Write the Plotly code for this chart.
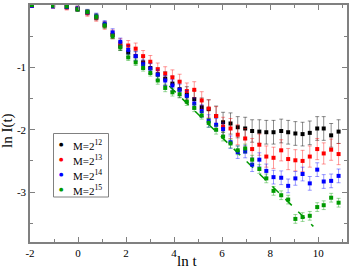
import plotly.graph_objects as go

ln_t = [-1.92, -1.04, -0.47, -0.02, 0.39, 0.76, 1.11, 1.44, 1.76, 2.09,
        2.40, 2.71, 3.01, 3.32, 3.63, 3.93, 4.23, 4.53, 4.84, 5.15,
        5.44, 5.75, 6.04, 6.35, 6.65, 6.96, 7.25, 7.55, 7.84, 8.14,
        8.46, 8.75, 9.05, 9.35, 9.65, 9.96, 10.23, 10.54, 10.85]

lnI_M12 = [0.00, -0.01, -0.03, -0.06, -0.12, -0.19, -0.32, -0.48, -0.66, -0.76,
           -0.82, -0.92, -1.01, -1.11, -1.18, -1.26, -1.35, -1.44, -1.51, -1.64,
           -1.67, -1.78, -1.88, -1.90, -1.96, -1.98, -2.02, -2.03, -2.04, -2.04,
           -2.02, -2.04, -2.06, -2.07, -2.05, -1.98, -1.98, -2.09, -2.03]
err_M12 = [0.03, 0.03, 0.03, 0.04, 0.04, 0.05, 0.05, 0.06, 0.07, 0.07,
           0.08, 0.09, 0.09, 0.10, 0.11, 0.12, 0.13, 0.13, 0.14, 0.15,
           0.15, 0.16, 0.16, 0.17, 0.17, 0.18, 0.18, 0.19, 0.19, 0.19,
           0.19, 0.19, 0.19, 0.19, 0.19, 0.19, 0.19, 0.19, 0.19]

lnI_M13 = [-0.01, -0.02, -0.04, -0.06, -0.13, -0.21, -0.33, -0.47, -0.62, -0.65,
           -0.70, -0.82, -0.91, -1.03, -1.10, -1.16, -1.23, -1.38, -1.36, -1.53,
           -1.66, -1.78, -1.95, -1.98, -2.08, -2.14, -2.31, -2.24, -2.43, -2.45,
           -2.33, -2.47, -2.49, -2.50, -2.43, -2.31, -2.38, -2.32, -2.39]
err_M13 = [0.03, 0.03, 0.04, 0.04, 0.05, 0.05, 0.06, 0.07, 0.08, 0.08,
           0.09, 0.09, 0.10, 0.10, 0.11, 0.12, 0.12, 0.13, 0.13, 0.14,
           0.14, 0.15, 0.15, 0.16, 0.16, 0.16, 0.17, 0.17, 0.17, 0.17,
           0.17, 0.17, 0.17, 0.17, 0.17, 0.17, 0.17, 0.17, 0.17]

lnI_M14 = [-0.01, -0.02, -0.03, -0.06, -0.11, -0.18, -0.30, -0.44, -0.59, -0.72,
           -0.82, -0.95, -1.02, -1.12, -1.21, -1.29, -1.36, -1.46, -1.58, -1.70,
           -1.86, -1.92, -1.99, -2.20, -2.36, -2.35, -2.56, -2.48, -2.66, -2.76,
           -2.77, -2.90, -2.78, -2.71, -2.86, -2.64, -2.83, -2.82, -2.74]
err_M14 = [0.03, 0.03, 0.03, 0.04, 0.04, 0.05, 0.05, 0.06, 0.06, 0.07,
           0.07, 0.07, 0.08, 0.08, 0.08, 0.09, 0.09, 0.09, 0.09, 0.10,
           0.10, 0.10, 0.10, 0.10, 0.10, 0.10, 0.11, 0.11, 0.11, 0.11,
           0.11, 0.11, 0.11, 0.11, 0.11, 0.11, 0.11, 0.11, 0.11]

lnI_M15 = [0.00, -0.01, -0.02, -0.07, -0.11, -0.19, -0.33, -0.50, -0.68, -0.84,
           -0.92, -1.01, -1.09, -1.21, -1.33, -1.40, -1.43, -1.55, -1.65, -1.77,
           -1.89, -2.00, -2.11, -2.22, -2.33, -2.30, -2.48, -2.63, -2.78, -2.98,
           -3.05, -3.12, -3.43, -3.40, -3.38, -3.24, -3.21, -3.09, -3.17]
err_M15 = [0.02, 0.02, 0.03, 0.03, 0.03, 0.04, 0.04, 0.04, 0.05, 0.05,
           0.05, 0.05, 0.05, 0.06, 0.06, 0.06, 0.06, 0.06, 0.06, 0.06,
           0.07, 0.07, 0.07, 0.07, 0.07, 0.07, 0.07, 0.07, 0.07, 0.07,
           0.07, 0.07, 0.07, 0.07, 0.07, 0.07, 0.07, 0.07, 0.07]

fit_x = [3.8, 9.8]
fit_y = [-1.30, -3.55]

series_names = ["M=2<sup>12</sup>", "M=2<sup>13</sup>", "M=2<sup>14</sup>", "M=2<sup>15</sup>"]
x_tickvals = [-2, 0, 2, 4, 6, 8, 10]
x_ticktext = ["-2", "0", "2", "4", "6", "8", "10"]
y_tickvals = [0, -1, -2, -3]
y_ticktext = ["0", "-1", "-2", "-3"]
x_title = "ln t"
y_title = "ln I(t)"

colors = ["#000000", "#ff0000", "#0000ff", "#009a00"]
err_colors = ["rgba(0,0,0,0.45)", "rgba(255,0,0,0.4)", "rgba(0,0,255,0.4)", "rgba(0,154,0,0.4)"]
ys = [lnI_M12, lnI_M13, lnI_M14, lnI_M15]
errs = [err_M12, err_M13, err_M14, err_M15]

FONT = "Liberation Serif, Times New Roman, serif"
W, H = 349, 270
ML, MR, MT, MB = 30, 2, 5, 28
PW, PH = W - ML - MR, H - MT - MB


def px_to_paper(px, py):
    return (px - ML) / PW, (H - MB - py) / PH


fig = go.Figure()
fig.add_trace(go.Scatter(x=fit_x, y=fit_y, mode="lines", showlegend=False,
                         line=dict(color="#009a00", width=1.5, dash="dash")))
for name, y, e, c, ec in zip(series_names, ys, errs, colors, err_colors):
    fig.add_trace(go.Scatter(
        x=ln_t, y=y, mode="markers", name=name, showlegend=False,
        marker=dict(symbol="square", size=4, color=c),
        error_y=dict(type="data", array=e, visible=True, color=ec, thickness=1, width=2),
    ))

axis_common = dict(
    showline=True, linecolor="#808080", linewidth=1.5, mirror="ticks",
    ticks="inside", ticklen=5, tickcolor="#808080", tickwidth=1,
    showgrid=False, zeroline=False, automargin=False,
    tickfont=dict(family=FONT, size=11, color="#000"),
)

fig.update_xaxes(range=[-2, 11.2], tickvals=x_tickvals, ticktext=x_ticktext,
                 minor=dict(ticks="inside", dtick=1, tick0=-2, ticklen=3, tickcolor="#808080"),
                 **axis_common)
fig.update_yaxes(range=[-3.8, 0], tickvals=y_tickvals, ticktext=y_ticktext,
                 minor=dict(ticks="inside", dtick=0.5, tick0=0, ticklen=3, tickcolor="#808080"),
                 **axis_common)

annotations = []
# axis titles
ax, ay = px_to_paper(187, 261)
annotations.append(dict(text=x_title, x=ax, y=ay, xref="paper", yref="paper",
                        showarrow=False, xanchor="center", yanchor="middle",
                        font=dict(family=FONT, size=15, color="#000")))
ax, ay = px_to_paper(7, 130)
annotations.append(dict(text=y_title, x=ax, y=ay, xref="paper", yref="paper",
                        showarrow=False, xanchor="center", yanchor="middle", textangle=-90,
                        font=dict(family=FONT, size=15, color="#000")))

# legend (manual, to match the compact boxed legend)
bx0, by0 = px_to_paper(53.5, 197)
bx1, by1 = px_to_paper(108.5, 133.5)
shapes = [dict(type="rect", xref="paper", yref="paper", x0=bx0, y0=by0, x1=bx1, y1=by1,
               line=dict(color="#808080", width=1), fillcolor="white", layer="above")]
entry_py = [144, 159, 173.5, 188.5]
for name, c, py in zip(series_names, colors, entry_py):
    mx, my = px_to_paper(61, py)
    annotations.append(dict(text="●", x=mx, y=my, xref="paper", yref="paper",
                            showarrow=False, xanchor="center", yanchor="middle",
                            font=dict(family="DejaVu Sans", size=5, color=c)))
    tx, ty = px_to_paper(70.5, py + 1)
    annotations.append(dict(text=name, x=tx, y=ty, xref="paper", yref="paper",
                            showarrow=False, xanchor="left", yanchor="middle",
                            font=dict(family=FONT, size=11, color="#000")))

fig.update_layout(
    width=W, height=H,
    margin=dict(l=ML, r=MR, t=MT, b=MB),
    paper_bgcolor="white", plot_bgcolor="white",
    font=dict(family=FONT, size=11, color="#000"),
    showlegend=False,
    annotations=annotations,
    shapes=shapes,
)

fig.write_html("out.html", config={"displayModeBar": False},
               post_script="document.body.style.margin='0';document.body.style.padding='0';")
